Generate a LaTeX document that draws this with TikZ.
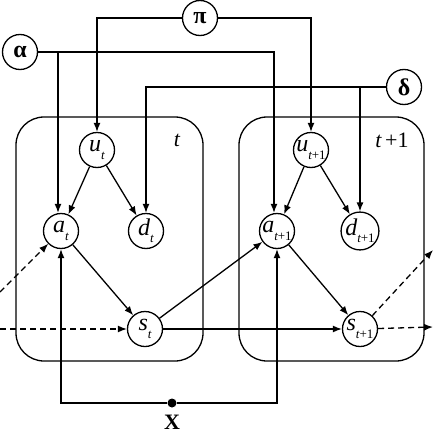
\documentclass[tikz,border=0pt]{standalone}
\usepackage{fontspec}
\setmainfont{Liberation Serif}
\usetikzlibrary{arrows.meta,calc}
\newcommand{\lowsub}[1]{\raisebox{-0.3em}{\fontsize{13}{13}\selectfont #1}}
\tikzset{
  var/.style={circle,draw,line width=1.3pt,minimum size=35pt,inner sep=0pt,font=\fontsize{24}{24}\selectfont},
  plate/.style={draw,line width=1.3pt,rounded corners=28pt},
  arr/.style={line width=1.3pt,-{Latex[length=9pt,width=7pt]}},
  dsh/.style={arr,dash pattern=on 6pt off 4pt},
  dot/.style={circle,fill,inner sep=0pt,minimum size=9pt},
  lbl/.style={font=\fontsize{22}{22}\selectfont,inner sep=0pt}
}
\begin{document}
\begin{tikzpicture}[x=1pt,y=-1pt]
\useasboundingbox (0,0) rectangle (434,434);
% plates
\draw[plate] (16,117) rectangle (203,361);
\draw[plate] (239,117) rectangle (424,361);
\node[lbl] (tl) at (177,140) {\itshape t};
\node[lbl] (tl1) at (392,140) {\itshape t\,\upshape +1};
% parameter nodes
\node[var] (alpha) at (20,52) {\bfseries α};
\node[var] (pi) at (200,18) {\bfseries π};
\node[var] (delta) at (404,87) {\bfseries δ};
% slice t
\node[var] (ut) at (97,150) {\itshape u\lowsub{\itshape t}};
\node[var] (at) at (61,231) {\itshape a\lowsub{\itshape t}};
\node[var] (dt) at (146,231) {\itshape d\lowsub{\itshape t}};
\node[var] (st) at (145,329) {\itshape s\lowsub{\itshape t}};
% slice t+1
\node[var] (ut1) at (311,150) {\itshape u\lowsub{\itshape t\upshape +1}};
\node[var] (at1) at (277,231) {\itshape a\lowsub{\itshape t\upshape +1}};
\node[var] (dt1) at (360,231) {\itshape d\lowsub{\itshape t\upshape +1}};
\node[var] (st1) at (360,329) {\itshape s\lowsub{\itshape t\upshape +1}};
% X
\node[dot] (x) at (172,403) {};
\node[lbl] (xl) at (172,422) {\bfseries X};
% parameter edges
\draw[arr] (alpha.east) -| ($(at.north)+(-3,0)$);
\draw[arr] (alpha.east) -| ($(at1.north)+(-3,0)$);
\draw[arr] (pi.west) -| (ut);
\draw[arr] (pi.east) -| (ut1);
\draw[arr] (delta.west) -| (dt);
\draw[arr] (delta.west) -| (dt1);
% within slices
\draw[arr] (ut) -- (at);
\draw[arr] (ut) -- (dt);
\draw[arr] (at) -- (st);
\draw[arr] (ut1) -- (at1);
\draw[arr] (ut1) -- (dt1);
\draw[arr] (at1) -- (st1);
% between slices
\draw[arr] (st) -- (at1);
\draw[arr] (st) -- (st1);
% X edges
\draw[arr] (x) -| (at);
\draw[arr] (x) -| (at1);
% dashed in/out
\coordinate (inA) at (0,292);
\coordinate (inS) at (0,329);
\coordinate (outA) at (433,250);
\coordinate (outS) at (433,327);
\draw[dsh] (inA) -- (at);
\draw[dsh] (inS) -- (st);
\draw[dsh] (st1) -- (outA);
\draw[dsh] (st1) -- (outS);
\end{tikzpicture}
\end{document}
